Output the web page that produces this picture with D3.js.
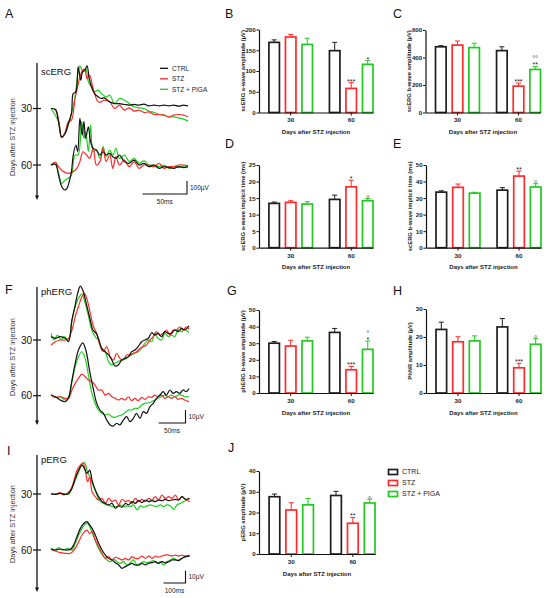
<!DOCTYPE html>
<html>
<head>
<meta charset="utf-8">
<script src="https://cdn.jsdelivr.net/npm/d3@7"></script>
<style>
  body { margin: 0; background: #fff; }
  svg { display: block; font-family: "Liberation Sans", Arial, sans-serif; }
</style>
</head>
<body>
<svg id="fig" width="550" height="598"></svg>
<script>
// ---- groups / categories ----
var groups = ["CTRL", "STZ", "STZ + PIGA"];
var days = ["30", "60"];

// ---- bar panels: rows = days (30, 60), cols = groups ----
var aAmpMean = [[169, 182, 164], [149, 58, 116]];
var aAmpSem  = [[6, 6, 15], [20, 14, 9]];
var aAmpSig  = [["", "", ""], ["", "***", "*"]];
var aAmpSig2 = [["", "", ""], ["", "", ""]];
var aAmpTicks = [0, 50, 100, 150, 200];

var bAmpMean = [[478, 490, 472], [450, 192, 313]];
var bAmpSem  = [[8, 30, 32], [28, 22, 22]];
var bAmpSig  = [["", "", ""], ["", "***", "**"]];
var bAmpSig2 = [["", "", ""], ["", "", "°°"]];
var bAmpTicks = [0, 200, 400, 600];

var aLatMean = [[13.4, 13.7, 13.2], [14.6, 18.4, 14.2]];
var aLatSem  = [[0.4, 0.5, 0.7], [1.3, 2.0, 0.7]];
var aLatSig  = [["", "", ""], ["", "*", ""]];
var aLatSig2 = [["", "", ""], ["", "", "°"]];
var aLatTicks = [0, 5, 10, 15, 20, 25];

var bLatMean = [[33.6, 36.5, 33.0], [34.8, 43.3, 36.7]];
var bLatSem  = [[0.8, 2.0, 0.5], [1.5, 3.0, 2.0]];
var bLatSig  = [["", "", ""], ["", "**", ""]];
var bLatSig2 = [["", "", ""], ["", "", "°"]];
var bLatTicks = [0, 10, 20, 30, 40, 50];

var phbMean = [[30.0, 28.3, 31.4], [36.5, 14.0, 26.3]];
var phbSem  = [[1.0, 3.5, 2.2], [2.4, 2.0, 5.0]];
var phbSig  = [["", "", ""], ["", "***", "*"]];
var phbSig2 = [["", "", ""], ["", "", "°"]];
var phbTicks = [0, 10, 20, 30, 40, 50];

var phnrMean = [[22.7, 18.3, 18.6], [23.6, 9.0, 17.4]];
var phnrSem  = [[2.6, 1.8, 1.8], [3.0, 1.6, 2.0]];
var phnrSig  = [["", "", ""], ["", "***", ""]];
var phnrSig2 = [["", "", ""], ["", "", "°"]];
var phnrTicks = [0, 10, 20, 30];

var pergMean = [[27.6, 21.2, 23.7], [28.2, 14.8, 24.6]];
var pergSem  = [[1.3, 3.5, 3.0], [2.0, 2.8, 1.8]];
var pergSig  = [["", "", ""], ["", "**", ""]];
var pergSig2 = [["", "", ""], ["", "", "°"]];
var pergTicks = [0, 10, 20, 30, 40];

// ---- waveforms: [time ms, amplitude µV] ----
var scCtrl30 = [[0,0],[5,-8],[8.5,-102],[12,-218],[16,-192],[19.5,-115],[23,-38],[25,115],[28,128],[30.5,320],[33.5,218],[35.5,282],[38,294],[40.5,328],[43,230],[45.5,166],[49,115],[53,90],[56.5,77],[60,82],[66,51],[71.5,38],[77,38],[82.5,31],[88,26],[93.5,31],[99,26],[104.5,33],[110,20],[116,26],[121.5,20],[127,26],[132.5,20],[138,26],[143.5,18],[149,26],[154,20]];
var scStz30 = [[0,0],[5,-8],[8.5,-90],[12,-225],[16,-180],[19.5,-102],[23,-90],[27,77],[29.5,154],[32.5,243],[35.5,294],[38,302],[40.5,230],[43.5,256],[46.5,179],[49,115],[53,51],[56.5,51],[60,64],[66,51],[71.5,0],[77,26],[82.5,-13],[88,5],[93.5,-20],[99,-13],[104.5,-31],[110,-26],[116,-46],[121.5,-46],[127,-51],[132.5,-64],[138,-51],[143.5,-46],[149,-51],[154,-64]];
var scPiga30 = [[0,0],[8.5,-102],[12,-225],[17.5,-166],[23,-38],[27,90],[30.5,282],[32.5,328],[36,282],[39,307],[42,205],[45.5,166],[49,128],[53,141],[56.5,115],[62,90],[66,102],[71.5,38],[77,77],[82.5,64],[88,38],[93.5,13],[99,5],[104.5,0],[110,-20],[116,-31],[121.5,-46],[127,-51],[132.5,-64],[138,-64],[143.5,-72],[149,-82],[154,-97]];
var scCtrl60 = [[0,0],[5,5],[8.5,-77],[12,-166],[15,-192],[18,-179],[20.5,-128],[23,-51],[25,77],[28,154],[30,102],[32.5,358],[35,230],[37,333],[39,205],[42,294],[44.5,179],[47.5,128],[51,115],[55,77],[58.5,102],[62,77],[66,90],[69.5,64],[73,51],[77,77],[82.5,26],[88,13],[93.5,38],[99,0],[104.5,13],[110,-13],[116,0],[121.5,-26],[127,-13],[132.5,-20],[138,-26],[143.5,-13],[149,-20],[154,-13]];
var scStz60 = [[0,0],[5,20],[8.5,-13],[14,-51],[19.5,-64],[25,-51],[29,-26],[32.5,26],[36,102],[40,77],[43.5,51],[47.5,128],[51,0],[55,26],[58.5,128],[62,26],[66,77],[69.5,-26],[73,64],[77,0],[82.5,38],[88,-13],[93.5,26],[99,-26],[104.5,0],[110,0],[116,-13],[121.5,13],[127,-26],[132.5,-13],[138,-13],[143.5,0],[149,0],[154,-5]];
var scPiga60 = [[0,0],[5,20],[8.5,-64],[12,-141],[16,-115],[19.5,-102],[23,-77],[27,77],[30.5,77],[34.5,333],[37,205],[39,256],[42,102],[44.5,307],[47.5,102],[51,115],[55,51],[58.5,141],[62,64],[66,115],[69.5,77],[73,128],[77,51],[82.5,77],[88,26],[93.5,51],[99,13],[104.5,31],[110,0],[116,0],[121.5,-13],[127,0],[132.5,-26],[138,-13],[143.5,-20],[149,-8],[154,-13]];

var phCtrl30 = [[0,2.6],[8,1.3],[17,2.6],[26.5,1.3],[32.5,-1.3],[39,15.4],[45,26.9],[49.5,35.8],[54.5,41.5],[59,38.4],[65.5,28.2],[71.5,17.9],[78,7.7],[84,5.1],[88,1.3],[94.5,-6.4],[100.5,-9],[107,-11.5],[113,-15.4],[119,-20],[125,-19.2],[131.5,-15.4],[137.5,-14.1],[144,-12.8],[150,-9],[156,-7.7],[162,-5.1],[168.5,-1.3],[174.5,0],[181,1.3],[187,5.6],[193,3.8],[199,5.1],[205.5,2.6],[211.5,6.4],[218,5.1],[224,5.1],[230,7.7],[236.5,6.4],[242.5,9],[248.5,7.7],[256.5,10.8]];
var phStz30 = [[0,-3.8],[8,-1.3],[17,0],[26.5,0],[32.5,1.3],[39,7.7],[45,17.9],[51,25.6],[57.5,33.3],[62,35.8],[66.5,32],[73,20.5],[79,10.2],[85,5.1],[91,-3.8],[97.5,-9],[103.5,-5.1],[110,-12.8],[116,-15.4],[122,-10.2],[128,-14.1],[134.5,-15.4],[140.5,-11.5],[147,-11.5],[153,-10.2],[159,-9],[165.5,-6.4],[171.5,-5.1],[177.5,-3.8],[184,0],[190,2.6],[196,6.4],[202.5,3.8],[208.5,5.1],[214.5,7.7],[221,3.8],[227,7.7],[233,7.7],[239.5,10.2],[245.5,7.7],[251.5,10.2],[256.5,8.2]];
var phPiga30 = [[0,5.1],[6,0],[12,3.8],[18.5,0],[24.5,2.6],[32.5,0],[39,15.4],[45,25.6],[51,32],[57.5,35.3],[63.5,28.2],[70,17.9],[76,7.7],[82,2.6],[88,0],[94.5,-7.7],[100.5,-9],[107,-16.6],[113,-19.2],[119,-17.9],[125,-16.6],[131.5,-15.4],[137.5,-14.8],[144,-12.8],[150,-11.5],[156,-10.2],[162,-9],[168.5,-6.4],[174.5,-2.6],[181,0],[187,-1.3],[193,5.1],[199,1.3],[205.5,0],[211.5,5.1],[218,2.6],[224,3.8],[230,2.6],[236.5,7.7],[242.5,6.4],[248.5,8.2],[256.5,5.6]];
var phCtrl60 = [[0,0.5],[8,-0.8],[17,-3.3],[26.5,-4.6],[32.5,-2],[39,12],[45,24.8],[51,35.1],[59,40.7],[65.5,33.8],[71.5,19.7],[79,4.4],[85,-5.9],[91,-11],[97.5,-13.6],[103.5,-18.7],[110,-22.5],[116,-23.3],[122,-21.2],[128,-22.5],[134.5,-18.7],[140.5,-16.1],[147,-20],[153,-17.4],[159,-13.6],[165.5,-17.4],[171.5,-12.3],[177.5,-13.6],[184,-8.4],[190,-5.9],[196,-2],[202.5,0.5],[208.5,3.1],[214.5,0.5],[221,4.4],[227,1.8],[233,3.1],[239.5,1.8],[245.5,4.4],[251.5,3.1],[256.5,5.6]];
var phStz60 = [[0,0.5],[8,-1.3],[17,-0.8],[26.5,-2],[32.5,-2],[39,4.4],[45,9.5],[51,13.3],[57.5,16.6],[63.5,14.6],[70,12],[76,10.8],[82,8.2],[88,4.4],[94.5,4.4],[100.5,0.5],[107,1.8],[113,-0.8],[119,-2],[125,-3.3],[131.5,-2],[137.5,-3.3],[144,-0.8],[150,-3.8],[156,-2],[162,-3.8],[168.5,-1.3],[174.5,-2.8],[181,-0.8],[187,-1.3],[193,0.5],[199,-0.8],[205.5,0.5],[211.5,-2],[218,-0.8],[224,-2],[230,-0.8],[236.5,-2.8],[242.5,-2],[248.5,-3.3],[256.5,-4.6]];
var phPiga60 = [[0,0.5],[8,-1.3],[17,-0.8],[26.5,-3.3],[32.5,-0.8],[39,10.8],[45,22.3],[51,30],[57.5,33.8],[63.5,28.7],[70,14.6],[76,1.8],[82,-5.9],[88,-11],[94.5,-13.6],[100.5,-14.8],[107,-14.1],[113,-16.1],[119,-16.6],[125,-15.6],[131.5,-14.8],[137.5,-13.1],[144,-11],[150,-11],[156,-9.7],[162,-9.7],[168.5,-7.2],[174.5,-5.9],[181,-5.4],[187,-4.6],[193,-3.3],[199,-2],[205.5,-0.8],[211.5,0.5],[218,-0.8],[224,0.5],[230,-0.8],[236.5,0.5],[242.5,0.5],[248.5,-0.8],[256.5,-0.8]];

var pCtrl30 = [[0,0],[19.5,-0.3],[42.5,0.5],[65,-0.3],[80.5,0.5],[95.5,4.6],[110.5,12.7],[126,19.4],[141,23.5],[151.5,20.8],[163.5,16.7],[176,19.4],[186.5,11.3],[201.5,3.2],[216.5,-2.2],[232,-6.2],[247,-7.6],[262,-8.9],[277,-7.6],[292.5,-11.6],[307.5,-9.7],[322.5,-10.8],[338,-7.6],[353,-8.9],[368,-6.2],[383,-7.6],[398.5,-5.4],[413.5,-7],[429,-4.9],[444,-6.2],[459,-5.4],[474,-6.2],[489.5,-4.9],[504.5,-5.4],[519.5,-4.3],[535,-5.4],[550,-4.9],[565,-4.3],[580,-4.9],[595.5,-2.2],[610.5,-4.3],[630,-3.5]];
var pStz30 = [[0,0.5],[19.5,-0.3],[42.5,1.1],[57.5,-0.8],[72.5,0.5],[88,3.2],[103,10],[118,19.4],[133.5,23.5],[145.5,25.4],[156,19.4],[166.5,10],[176,14],[186.5,1.9],[201.5,-2.2],[216.5,-4.9],[232,-3.5],[247,-7.6],[262,-3.5],[277,-6.2],[292.5,-4.9],[307.5,-8.9],[322.5,-4.3],[338,-6.2],[353,-5.4],[368,-7.6],[383,-3.5],[398.5,-6.2],[413.5,-4.3],[429,-6.2],[444,-3.5],[459,-4.9],[474,-2.2],[489.5,-4.9],[504.5,-0.8],[519.5,-3.5],[535,-2.2],[550,-3.5],[565,-0.8],[580,-4.9],[595.5,-2.2],[610.5,-4.3],[630,-6.2]];
var pPiga30 = [[0,0],[19.5,0],[42.5,0.5],[65,-0.3],[80.5,0],[95.5,4.6],[110.5,11.3],[126,18.1],[141,24.3],[153,25.4],[163.5,19.4],[179,12.7],[194,5.9],[209,-0.8],[224,-6.2],[239.5,-7.6],[254.5,-8.9],[269.5,-9.7],[285,-10.3],[300,-10.3],[315,-8.9],[330,-10.3],[345.5,-9.7],[360.5,-10.3],[375.5,-8.9],[391,-13],[406,-9.7],[421,-10.8],[436.5,-9.7],[451.5,-8.9],[466.5,-9.7],[482,-10.3],[497,-8.9],[512,-10.3],[527,-8.9],[542.5,-9.7],[557.5,-12.5],[572.5,-8.9],[588,-7.6],[603,-6.2],[618,-4.9],[630,-3.5]];
var pCtrl60 = [[0,0.8],[19.5,0],[42.5,0.8],[65,0],[88,0.5],[103,4.1],[118,10.8],[133.5,17.6],[148.5,21.6],[163.5,23],[176,20.3],[186.5,17.6],[201.5,12.2],[216.5,5.4],[232,0],[247,-4.1],[262,-6.8],[277,-8.1],[292.5,-10.3],[307.5,-12.2],[322.5,-14.9],[338,-13.5],[353,-12.2],[368,-10.8],[383,-12.2],[398.5,-12.2],[413.5,-10.8],[429,-12.2],[444,-10.8],[459,-10.3],[474,-9.5],[489.5,-10.8],[504.5,-9.5],[519.5,-10.3],[535,-9.5],[550,-8.1],[565,-8.1],[580,-8.6],[595.5,-6.8],[610.5,-5.4],[630,-4.9]];
var pStz60 = [[0,0.5],[19.5,-0.8],[42.5,-2.2],[65,-2.7],[88,-2.7],[110.5,1.4],[126,6.8],[141,12.2],[153,14.9],[163.5,16.2],[176,13.5],[186.5,14.9],[201.5,8.1],[216.5,2.7],[232,-2.7],[247,-6.8],[262,-5.4],[277,-8.1],[292.5,-5.9],[307.5,-6.8],[322.5,-8.1],[338,-6.8],[353,-8.1],[368,-5.4],[383,-6.8],[398.5,-6.8],[413.5,-4.9],[429,-6.8],[444,-4.9],[459,-6.8],[474,-4.9],[489.5,-5.9],[504.5,-4.9],[519.5,-4.1],[535,-4.1],[550,-4.9],[565,-4.1],[580,-4.9],[595.5,-4.1],[610.5,-4.9],[630,-4.1]];
var pPiga60 = [[0,1.4],[19.5,0],[35,1.9],[50,0],[65,0.5],[80.5,1.4],[95.5,0],[110.5,5.4],[126,12.2],[141,17.6],[156,21.1],[166.5,21.6],[179,17.6],[194,10.8],[209,4.1],[224,-1.4],[239.5,-5.4],[254.5,-8.1],[269.5,-9.5],[285,-7.6],[300,-9.5],[315,-10.8],[330,-9.5],[345.5,-12.2],[360.5,-10.3],[375.5,-8.1],[391,-12.2],[406,-10.8],[421,-9.5],[436.5,-10.3],[451.5,-9.5],[466.5,-8.6],[482,-10.8],[497,-9.5],[512,-12.2],[527,-9.5],[542.5,-8.1],[557.5,-6.8],[572.5,-8.1],[588,-7.6],[603,-5.9],[618,-5.4],[630,-4.9]];

// ---- drawing ----
var svg = d3.select("#fig");
var colorOf = {"CTRL": "#1e1e1e", "STZ": "#ff2b2b", "STZ + PIGA": "#22c922"};
var lineColor = {"CTRL": "#111", "STZ": "#ff2a2a", "STZ + PIGA": "#1fcf1f"};

function panelLabel(txt, x, y) {
  svg.append("text").attr("x", x).attr("y", y)
    .attr("font-size", 12.5).attr("fill", "#111").text(txt);
}

function barPanel(o) {
  var h = o.bottom - o.top;
  var g = svg.append("g").attr("transform", "translate(" + o.x + "," + o.top + ")");

  var x0 = d3.scaleBand().domain(days).range([0, o.w])
    .paddingInner(0.28).paddingOuter(0.082).align(1);
  var x1 = d3.scaleBand().domain(groups).range([0, x0.bandwidth()]).paddingInner(0.364);
  var y = d3.scaleLinear().domain([0, o.max]).range([h, 0]);

  var rows = [];
  days.forEach(function(d, i) {
    groups.forEach(function(k, j) {
      rows.push({day: d, key: k, v: o.mean[i][j], e: o.sem[i][j],
                 s1: o.sig[i][j], s2: o.sig2[i][j]});
    });
  });
  var cx = function(d) { return x0(d.day) + x1(d.key) + x1.bandwidth() / 2; };

  // error bars (drawn first so the bar outline sits over the stem)
  var eb = g.selectAll("g.err").data(rows).enter().append("g")
    .attr("stroke", function(d) { return colorOf[d.key]; })
    .attr("stroke-width", 1);
  eb.append("line")
    .attr("x1", cx).attr("x2", cx)
    .attr("y1", function(d) { return y(d.v); })
    .attr("y2", function(d) { return y(d.v + d.e); });
  eb.append("line")
    .attr("x1", function(d) { return cx(d) - 2.5; })
    .attr("x2", function(d) { return cx(d) + 2.5; })
    .attr("y1", function(d) { return y(d.v + d.e); })
    .attr("y2", function(d) { return y(d.v + d.e); });

  g.selectAll("rect.bar").data(rows).enter().append("rect")
    .attr("x", function(d) { return x0(d.day) + x1(d.key); })
    .attr("y", function(d) { return y(d.v); })
    .attr("width", x1.bandwidth())
    .attr("height", function(d) { return h - y(d.v); })
    .attr("fill", "#fff")
    .attr("stroke", function(d) { return colorOf[d.key]; })
    .attr("stroke-width", 1.7);

  // significance marks (* vs CTRL in dark, ° vs STZ in grey above)
  rows.forEach(function(d) {
    var yy = y(d.v + d.e) + 1;
    if (d.s1) {
      g.append("text").attr("x", cx(d)).attr("y", yy)
        .attr("text-anchor", "middle").attr("font-size", 7).attr("fill", "#222")
        .text(d.s1);
    }
    if (d.s2) {
      g.append("text").attr("x", cx(d)).attr("y", yy - (d.s1 ? 8 : 0) + 1.5)
        .attr("text-anchor", "middle").attr("font-size", d.s1 ? 6.5 : 8)
        .attr("font-weight", "bold").attr("fill", "#777")
        .text(d.s2);
    }
  });

  // axes
  var ya = g.append("g")
    .call(d3.axisLeft(y).tickValues(o.ticks).tickSize(2.5).tickPadding(0.8).tickSizeOuter(0));
  var xa = g.append("g").attr("transform", "translate(0," + h + ")")
    .call(d3.axisBottom(x0).tickSize(3).tickPadding(2.5).tickSizeOuter(0));
  [ya, xa].forEach(function(a) {
    a.attr("font-family", null);
    a.select(".domain").attr("stroke", "#111").attr("stroke-width", 1.2);
    a.selectAll(".tick line").attr("stroke", "#111").attr("stroke-width", 1);
    a.selectAll(".tick text").attr("font-size", 6.2).attr("font-weight", "bold")
      .attr("fill", "#222");
  });

  g.append("text")
    .attr("transform", "translate(-14.5," + (h / 2) + ") rotate(-90)")
    .attr("text-anchor", "middle").attr("font-size", 5.8).attr("font-weight", "bold")
    .attr("fill", "#222").text(o.ytitle);
  g.append("text")
    .attr("x", o.w / 2).attr("y", h + 21.5)
    .attr("text-anchor", "middle").attr("font-size", 6).attr("font-weight", "bold")
    .attr("fill", "#222").text("Days after STZ injection");
}

function tracePanel(o) {
  var x = d3.scaleLinear().domain([0, o.tMax]).range([51, o.xEnd]);
  var ax = 37;

  // vertical "days" axis with arrow
  svg.append("line").attr("x1", ax).attr("x2", ax).attr("y1", o.top).attr("y2", o.tip - 3)
    .attr("stroke", "#111").attr("stroke-width", 1.3);
  svg.append("path")
    .attr("d", "M" + ax + "," + o.tip + "L" + (ax - 2) + "," + (o.tip - 4.5) +
               "L" + (ax + 2) + "," + (o.tip - 4.5) + "Z")
    .attr("fill", "#111");
  svg.append("text")
    .attr("transform", "translate(14.5," + o.titleY + ") rotate(-90)")
    .attr("text-anchor", "middle").attr("font-size", 7.3).attr("fill", "#333")
    .text("Days after STZ injection");
  svg.append("text").attr("x", 41).attr("y", o.nameY)
    .attr("font-size", 9.5).attr("fill", "#111").text(o.name);

  var yOf = {};
  o.rows.forEach(function(r) {
    var y = d3.scaleLinear().domain([0, o.uvUnit]).range([r.base, r.base - o.uvPx]);
    yOf[r.day] = y;
    svg.append("line").attr("x1", 33).attr("x2", 41).attr("y1", r.base).attr("y2", r.base)
      .attr("stroke", "#111").attr("stroke-width", 1.2);
    svg.append("text").attr("x", 32).attr("y", r.base).attr("dy", "0.36em")
      .attr("text-anchor", "end").attr("font-size", 10).attr("fill", "#111").text(r.day);

    var line = d3.line()
      .x(function(d) { return x(d[0]); })
      .y(function(d) { return y(d[1]); })
      .curve(d3.curveCatmullRom.alpha(0.5));
    ["STZ + PIGA", "STZ", "CTRL"].forEach(function(k) {
      svg.append("path").datum(r.traces[k])
        .attr("d", line).attr("fill", "none")
        .attr("stroke", lineColor[k]).attr("stroke-width", 1.2)
        .attr("stroke-linejoin", "round");
    });
  });

  // scale bar (time and amplitude lengths from the scales)
  var y60 = yOf["60"];
  var bw = x(o.barT) - x(0), bh = y60(0) - y60(o.uvUnit);
  var c = o.barCorner;
  svg.append("path")
    .attr("d", "M" + (c[0] - bw) + "," + c[1] + "H" + c[0] + "V" + (c[1] - bh))
    .attr("fill", "none").attr("stroke", "#111").attr("stroke-width", 1.1);
  svg.append("text").attr("x", c[0] - bw / 2).attr("y", c[1] + 10)
    .attr("text-anchor", "middle").attr("font-size", 6.5).attr("fill", "#222")
    .text(o.barT + "ms");
  svg.append("text").attr("x", c[0] + 3).attr("y", c[1] - 4.5)
    .attr("font-size", 6.5).attr("fill", "#222").text(o.uvUnit + "µV");
}

// ---- trace panels ----
panelLabel("A", 5, 17.5);
tracePanel({
  name: "scERG", nameY: 74.5, top: 63, tip: 200, titleY: 137,
  tMax: 154, xEnd: 188, uvUnit: 100, uvPx: 13, barT: 50, barCorner: [187, 194],
  rows: [
    {day: "30", base: 108.5, traces: {"CTRL": scCtrl30, "STZ": scStz30, "STZ + PIGA": scPiga30}},
    {day: "60", base: 165, traces: {"CTRL": scCtrl60, "STZ": scStz60, "STZ + PIGA": scPiga60}}
  ]
});
// legend inside A
groups.forEach(function(k, i) {
  var yy = 68.3 + i * 10.5;
  svg.append("line").attr("x1", 160).attr("x2", 168).attr("y1", yy).attr("y2", yy)
    .attr("stroke", lineColor[k]).attr("stroke-width", 1.3);
  svg.append("text").attr("x", 172).attr("y", yy).attr("dy", "0.35em")
    .attr("font-size", 6.5).attr("fill", "#222").text(k);
});

panelLabel("F", 5, 294);
tracePanel({
  name: "phERG", nameY: 294.5, top: 287, tip: 425, titleY: 357,
  tMax: 256.5, xEnd: 189, uvUnit: 10, uvPx: 13, barT: 50, barCorner: [185.5, 423],
  rows: [
    {day: "30", base: 340, traces: {"CTRL": phCtrl30, "STZ": phStz30, "STZ + PIGA": phPiga30}},
    {day: "60", base: 395.7, traces: {"CTRL": phCtrl60, "STZ": phStz60, "STZ + PIGA": phPiga60}}
  ]
});

panelLabel("I", 7, 455);
tracePanel({
  name: "pERG", nameY: 463, top: 455, tip: 592, titleY: 524,
  tMax: 630, xEnd: 189.6, uvUnit: 10, uvPx: 12.3, barT: 100, barCorner: [185.5, 583],
  rows: [
    {day: "30", base: 494, traces: {"CTRL": pCtrl30, "STZ": pStz30, "STZ + PIGA": pPiga30}},
    {day: "60", base: 550, traces: {"CTRL": pCtrl60, "STZ": pStz60, "STZ + PIGA": pPiga60}}
  ]
});

// ---- bar panels ----
panelLabel("B", 225, 18);
barPanel({x: 259, top: 29.5, bottom: 112.5, w: 114, max: 200, ticks: aAmpTicks,
  mean: aAmpMean, sem: aAmpSem, sig: aAmpSig, sig2: aAmpSig2,
  ytitle: "scERG a-wave amplitude (µV)"});

panelLabel("C", 393, 18);
barPanel({x: 425.5, top: 30, bottom: 112.5, w: 115, max: 600, ticks: bAmpTicks,
  mean: bAmpMean, sem: bAmpSem, sig: bAmpSig, sig2: bAmpSig2,
  ytitle: "scERG b-wave amplitude (µV)"});

panelLabel("D", 225, 148);
barPanel({x: 259, top: 165, bottom: 247.7, w: 114, max: 25, ticks: aLatTicks,
  mean: aLatMean, sem: aLatSem, sig: aLatSig, sig2: aLatSig2,
  ytitle: "scERG a-wave implicit time (ms)"});

panelLabel("E", 393, 148);
barPanel({x: 426, top: 165, bottom: 247.7, w: 115, max: 50, ticks: bLatTicks,
  mean: bLatMean, sem: bLatSem, sig: bLatSig, sig2: bLatSig2,
  ytitle: "scERG b-wave implicit time (ms)"});

panelLabel("G", 227, 295);
barPanel({x: 259, top: 310, bottom: 393, w: 114, max: 50, ticks: phbTicks,
  mean: phbMean, sem: phbSem, sig: phbSig, sig2: phbSig2,
  ytitle: "phERG b-wave amplitude (µV)"});

panelLabel("H", 393, 295);
barPanel({x: 426, top: 309, bottom: 393, w: 115, max: 30, ticks: phnrTicks,
  mean: phnrMean, sem: phnrSem, sig: phnrSig, sig2: phnrSig2,
  ytitle: "PhNR amplitude (µV)"});

panelLabel("J", 228, 452);
barPanel({x: 259, top: 471, bottom: 554, w: 116, max: 40, ticks: pergTicks,
  mean: pergMean, sem: pergSem, sig: pergSig, sig2: pergSig2,
  ytitle: "pERG amplitude (µV)"});

// legend for bar panels
groups.forEach(function(k, i) {
  var yy = 472 + i * 11;
  svg.append("rect").attr("x", 388.5).attr("y", yy - 2.5).attr("width", 9).attr("height", 5)
    .attr("fill", "#fff").attr("stroke", colorOf[k]).attr("stroke-width", 1.7);
  svg.append("text").attr("x", 402).attr("y", yy).attr("dy", "0.35em")
    .attr("font-size", 7).attr("fill", "#222").text(k);
});
</script>
</body>
</html>
